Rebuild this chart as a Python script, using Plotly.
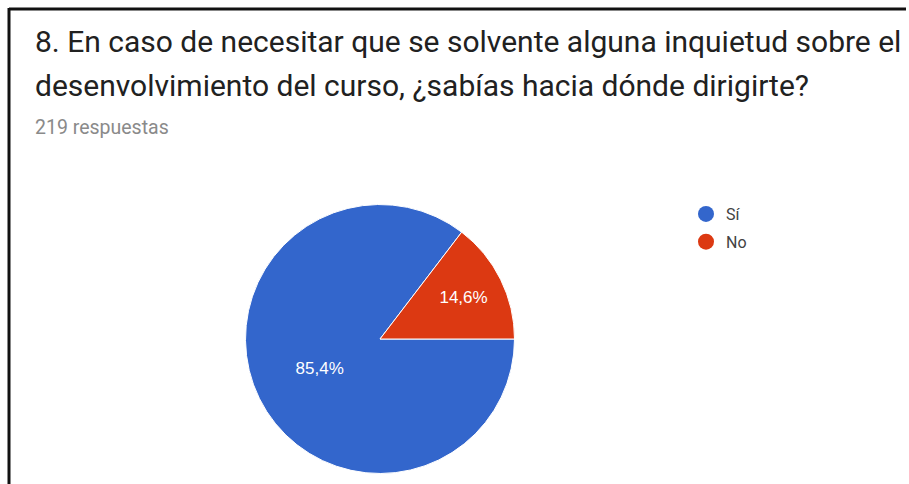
import plotly.graph_objects as go

# Encuesta - pregunta 8
title_lines = [
    "8. En caso de necesitar que se solvente alguna inquietud sobre el",
    "desenvolvimiento del curso, ¿sabías hacia dónde dirigirte?",
]
n_respuestas = 219
respuestas = ["Sí", "No"]
conteos = [187, 32]
colores = ["#3366CC", "#DC3912"]

W, H = 909, 484


def px_x(x):
    return x / W


def px_y(y):
    # pixel from top -> paper coords
    return 1 - y / H


fig = go.Figure()

cx, cy, r = 380, 339, 134.5
fig.add_trace(
    go.Pie(
        labels=respuestas,
        values=conteos,
        sort=False,
        direction="clockwise",
        rotation=90,
        marker=dict(colors=colores, line=dict(color="white", width=1)),
        texttemplate="%{percent:.1%}",
        textposition="inside",
        insidetextorientation="horizontal",
        textfont=dict(color="white", size=17, family="Arial"),
        domain=dict(x=[px_x(cx - r), px_x(cx + r)], y=[px_y(cy + r), px_y(cy - r)]),
        showlegend=False,
        hoverinfo="label+percent+value",
    )
)

# legend with round markers, like the Google Forms one
for lab, col in zip(respuestas, colores):
    fig.add_trace(
        go.Scatter(
            x=[None],
            y=[None],
            mode="markers",
            name=lab,
            legendgroup=lab,
            marker=dict(color=col, size=16, symbol="circle"),
        )
    )

fig.update_layout(
    width=W,
    height=H,
    margin=dict(l=0, r=0, t=0, b=0),
    paper_bgcolor="white",
    plot_bgcolor="white",
    separators=",.",
    font=dict(family="Roboto", color="#212121"),
    xaxis=dict(visible=False),
    yaxis=dict(visible=False),
    legend=dict(
        x=px_x(686),
        y=px_y(197),
        xanchor="left",
        yanchor="top",
        itemsizing="trace",
        font=dict(family="Roboto", size=16, color="#424242"),
        tracegroupgap=4,
        bgcolor="rgba(0,0,0,0)",
    ),
    annotations=[
        dict(
            text=title_lines[0],
            x=px_x(33),
            y=px_y(61),
            xref="paper",
            yref="paper",
            xanchor="left",
            yanchor="bottom",
            showarrow=False,
            font=dict(size=30, color="#212121"),
        ),
        dict(
            text=title_lines[1],
            x=px_x(33),
            y=px_y(105),
            xref="paper",
            yref="paper",
            xanchor="left",
            yanchor="bottom",
            showarrow=False,
            font=dict(size=30, color="#212121"),
        ),
        dict(
            text=f"{n_respuestas} respuestas",
            x=px_x(33),
            y=px_y(141),
            xref="paper",
            yref="paper",
            xanchor="left",
            yanchor="bottom",
            showarrow=False,
            font=dict(size=19.5, color="#8a8a8a"),
        ),
    ],
    shapes=[
        dict(type="line", xref="paper", yref="paper",
             x0=px_x(9), x1=px_x(906), y0=px_y(9), y1=px_y(9),
             line=dict(color="#111111", width=3)),
        dict(type="line", xref="paper", yref="paper",
             x0=px_x(9), x1=px_x(9), y0=px_y(8), y1=0,
             line=dict(color="#111111", width=3)),
    ],
)

# drop the default 8px page margin so the figure fills the window
fig.write_html(
    "out.html",
    config={"displayModeBar": False},
    post_script="document.body.style.margin='0';",
)
